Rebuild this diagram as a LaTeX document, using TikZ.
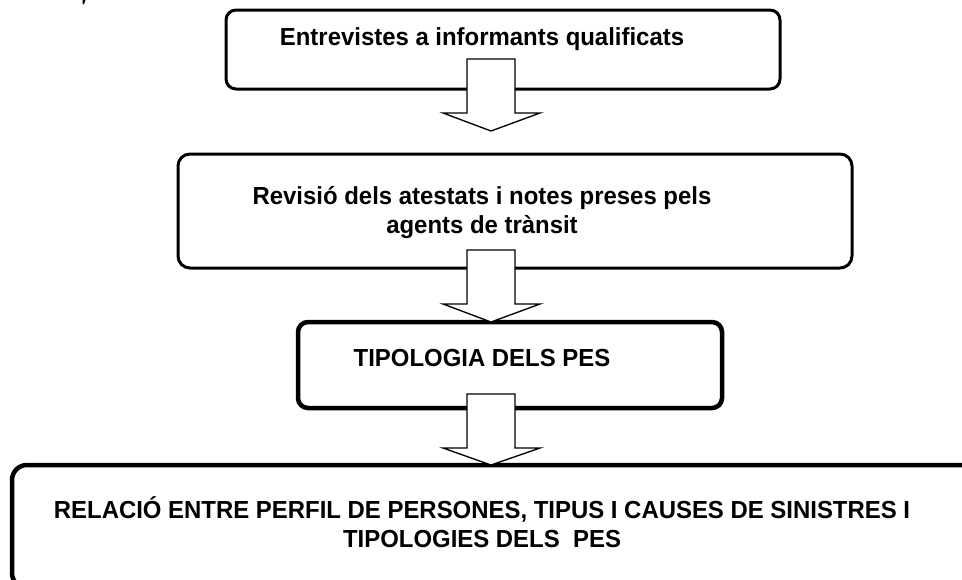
\documentclass[tikz,border=0pt]{standalone}
\usepackage{fontspec}
\setmainfont{Liberation Sans}[FakeStretch=0.97]
\newdimen\pxu \pxu=0.75pt
\begin{document}
\begin{tikzpicture}[x=0.75pt,y=-0.75pt,
  box/.style={draw=black, fill=white, rectangle, inner sep=0pt},
  lbl/.style={font=\bfseries\fontsize{18.5}{22}\selectfont, anchor=base, inner sep=0pt},
  blockarrow/.style={draw=black, fill=white, line width=1pt, line join=miter}]
\clip (0,0) rectangle (962,579);
\fill[white] (0,0) rectangle (962,579);
% tiny mark at top left
\fill[black] (82.5,0) -- (85.5,0) -- (84,4) -- (82.5,4.5) -- cycle;
% boxes
\node[box, line width=3\pxu, rounded corners=10\pxu, minimum width=554\pxu, minimum height=79\pxu] (b1) at (503,49.5) {};
\node[box, line width=3\pxu, rounded corners=12\pxu, minimum width=674\pxu, minimum height=114\pxu] (b2) at (515,211) {};
\node[box, line width=4.5\pxu, rounded corners=10\pxu, minimum width=424\pxu, minimum height=86\pxu] (b3) at (510,365) {};
\node[box, line width=4.5\pxu, rounded corners=15\pxu, minimum width=1008\pxu, minimum height=123\pxu] (b4) at (516,526.5) {};
% texts
\node[lbl] (t1) at (482,45) {Entrevistes a informants qualificats};
\node[lbl] (t2a) at (482,204) {Revisió dels atestats i notes preses pels};
\node[lbl] (t2b) at (482,233) {agents de trànsit};
\node[lbl] (t3) at (482,366) {TIPOLOGIA DELS PES};
\node[lbl] (t4a) at (482,518) {RELACIÓ ENTRE PERFIL DE PERSONES, TIPUS I CAUSES DE SINISTRES I};
\node[lbl] (t4b) at (482,547) {TIPOLOGIES DELS\ \ PES};
% block arrows
\draw[blockarrow] (467,59) -- (515,59) -- (515,113) -- (540,113) -- (491,131) -- (443,113) -- (467,113) -- cycle;
\draw[blockarrow] (467,250) -- (515,250) -- (515,304) -- (540,304) -- (491,322) -- (443,304) -- (467,304) -- cycle;
\draw[blockarrow] (467,394) -- (515,394) -- (515,448) -- (540,448) -- (491,465) -- (443,448) -- (467,448) -- cycle;
\end{tikzpicture}
\end{document}
